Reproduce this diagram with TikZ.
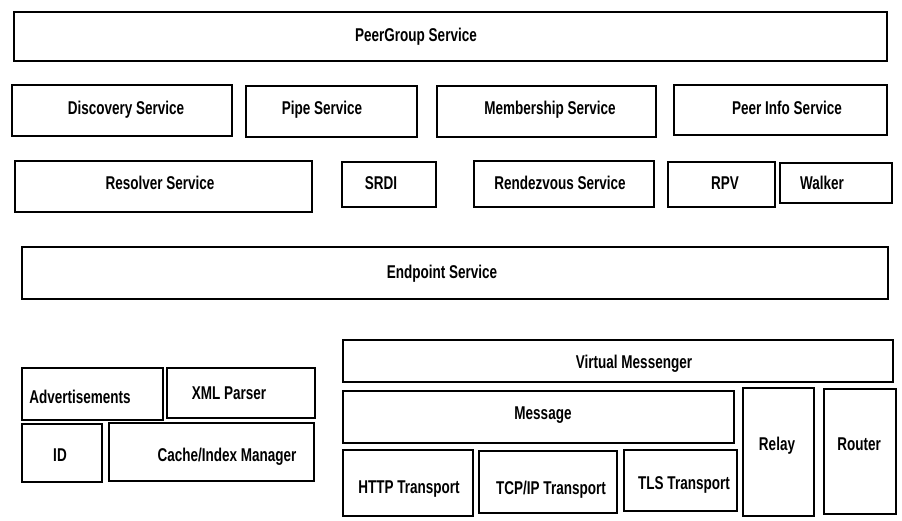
\documentclass[tikz,border=0pt]{standalone}
\usepackage{fontspec}
\setmainfont{Liberation Sans}[FakeStretch=0.73]
\usetikzlibrary{fit}
\tikzset{
  blk/.style={draw=black, line width=2pt, fill=white, inner sep=0pt},
  txt/.style={font=\fontsize{18.5}{21}\selectfont\bfseries, inner sep=0pt, anchor=base}
}
% \layer{name}{x1}{y1}{x2}{y2}{text x}{text baseline y}{text}
\newcommand\layer[8]{%
  \node[blk, fit={(#2,#3) (#4,#5)}] (#1) {};
  \node[txt] (#1-t) at (#6,#7) {#8};
}
\begin{document}
\begin{tikzpicture}[x=1pt,y=-1pt]
  \useasboundingbox[fill=white] (0,0) rectangle (902,521);

  % platform services
  \layer{pg}{14}{12}{887}{61}{416}{42}{PeerGroup Service}
  \layer{disc}{12}{85}{232}{136}{126}{115}{Discovery Service}
  \layer{pipe}{246}{86}{417}{137}{322}{115}{Pipe Service}
  \layer{memb}{437}{86}{656}{137}{550}{115}{Membership Service}
  \layer{pinfo}{674}{85}{887}{135}{787}{115}{Peer Info Service}

  % resolver and rendezvous
  \layer{res}{15}{161}{312}{212}{160}{190}{Resolver Service}
  \layer{srdi}{342}{162}{436}{207}{381}{190}{SRDI}
  \layer{rdv}{474}{161}{654}{207}{560}{190}{Rendezvous Service}
  \layer{rpv}{668}{162}{775}{207}{725}{190}{RPV}
  \layer{walk}{780}{163}{892}{203}{822}{190}{Walker}

  % endpoint
  \layer{ep}{22}{247}{888}{299}{442}{279}{Endpoint Service}

  % utilities
  \layer{adv}{22}{368}{163}{420}{80}{403}{Advertisements}
  \layer{xml}{167}{368}{315}{418}{229}{399}{XML Parser}
  \layer{id}{22}{424}{102}{482}{60}{461}{ID}
  \layer{cache}{109}{423}{314}{481}{227}{461}{Cache/Index Manager}

  % messaging and transports
  \layer{vm}{343}{340}{893}{382}{634}{368}{Virtual Messenger}
  \layer{msg}{343}{391}{734}{443}{543}{419}{Message}
  \layer{http}{343}{450}{473}{516}{409}{493}{HTTP Transport}
  \layer{tcp}{479}{451}{617}{513}{551}{494}{TCP/IP Transport}
  \layer{tls}{624}{450}{737}{511}{684}{489}{TLS Transport}
  \layer{relay}{743}{388}{814}{516}{777}{450}{Relay}
  \layer{router}{824}{389}{896}{514}{859}{450}{Router}
\end{tikzpicture}
\end{document}
